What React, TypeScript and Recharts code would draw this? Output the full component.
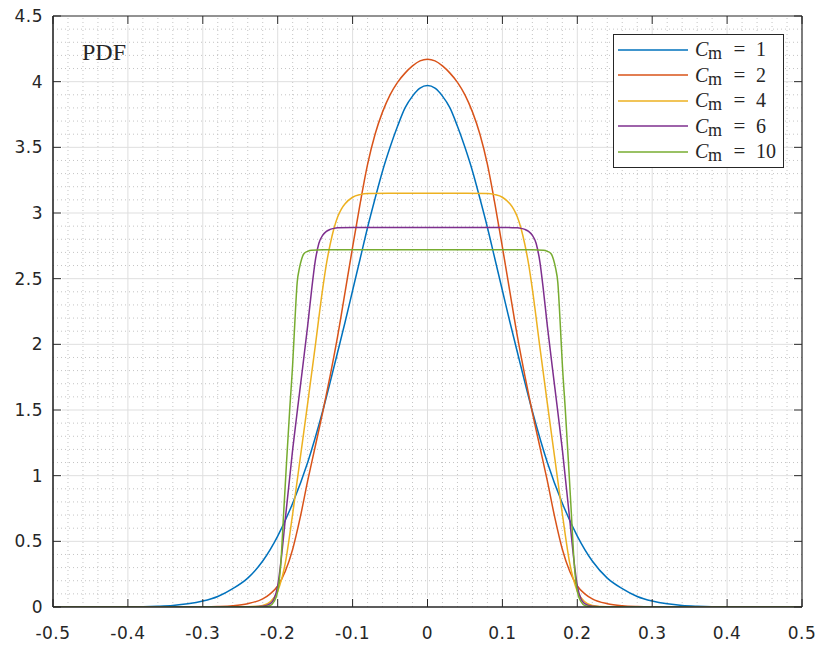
import React from "react";
import { Legend, Line, LineChart, ReferenceLine, XAxis, YAxis } from "recharts";

const xTicks = [-0.5, -0.4, -0.3, -0.2, -0.1, 0, 0.1, 0.2, 0.3, 0.4, 0.5];
const yTicks = [0, 0.5, 1, 1.5, 2, 2.5, 3, 3.5, 4, 4.5];

const cmValues = ["1", "2", "4", "6", "10"];
const colors = ["#0072BD", "#D95319", "#EDB120", "#7E2F8E", "#77AC30"];

// Cm = 1
const cm1X = [-0.5, -0.4, -0.36, -0.34, -0.32, -0.3, -0.28, -0.26, -0.24, -0.22, -0.2, -0.18, -0.16, -0.14, -0.12, -0.11, -0.1, -0.09, -0.08, -0.07, -0.06, -0.05, -0.04, -0.03, -0.02, -0.01, 0, 0.01, 0.02, 0.03, 0.04, 0.05, 0.06, 0.07, 0.08, 0.09, 0.1, 0.11, 0.12, 0.14, 0.16, 0.18, 0.2, 0.22, 0.24, 0.26, 0.28, 0.3, 0.32, 0.34, 0.36, 0.4, 0.5];
const cm1Y = [0, 0.001, 0.006, 0.012, 0.024, 0.045, 0.08, 0.14, 0.22, 0.35, 0.54, 0.79, 1.1, 1.49, 1.94, 2.17, 2.41, 2.65, 2.89, 3.11, 3.32, 3.5, 3.66, 3.8, 3.89, 3.95, 3.97, 3.95, 3.89, 3.8, 3.66, 3.5, 3.32, 3.11, 2.89, 2.65, 2.41, 2.17, 1.94, 1.49, 1.1, 0.79, 0.54, 0.35, 0.22, 0.14, 0.08, 0.045, 0.024, 0.012, 0.006, 0.001, 0];

// Cm = 2
const cm2X = [-0.5, -0.34, -0.3, -0.28, -0.26, -0.24, -0.22, -0.21, -0.2, -0.19, -0.18, -0.17, -0.16, -0.15, -0.14, -0.13, -0.12, -0.11, -0.1, -0.09, -0.08, -0.07, -0.06, -0.05, -0.04, -0.03, -0.02, -0.01, 0, 0.01, 0.02, 0.03, 0.04, 0.05, 0.06, 0.07, 0.08, 0.09, 0.1, 0.11, 0.12, 0.13, 0.14, 0.15, 0.16, 0.17, 0.18, 0.19, 0.2, 0.21, 0.22, 0.24, 0.26, 0.28, 0.3, 0.34, 0.5];
const cm2Y = [0, 0.0003, 0.001, 0.003, 0.009, 0.025, 0.062, 0.1, 0.16, 0.27, 0.44, 0.68, 0.96, 1.22, 1.48, 1.76, 2.06, 2.4, 2.74, 3.07, 3.37, 3.6, 3.77, 3.9, 3.995, 4.065, 4.12, 4.158, 4.17, 4.158, 4.12, 4.065, 3.995, 3.9, 3.77, 3.6, 3.37, 3.07, 2.74, 2.4, 2.06, 1.76, 1.48, 1.22, 0.96, 0.68, 0.44, 0.27, 0.16, 0.1, 0.062, 0.025, 0.009, 0.003, 0.001, 0.0003, 0];

// Cm = 4
const cm4X = [-0.5, -0.24, -0.22, -0.21, -0.2, -0.19, -0.18, -0.17, -0.16, -0.15, -0.14, -0.135, -0.13, -0.125, -0.12, -0.115, -0.11, -0.1, -0.09, -0.08, -0.04, 0, 0.04, 0.08, 0.09, 0.1, 0.11, 0.115, 0.12, 0.125, 0.13, 0.135, 0.14, 0.15, 0.16, 0.17, 0.18, 0.19, 0.2, 0.21, 0.22, 0.24, 0.5];
const cm4Y = [0, 0.002, 0.012, 0.04, 0.12, 0.33, 0.71, 1.13, 1.55, 1.98, 2.42, 2.61, 2.76, 2.88, 2.97, 3.03, 3.07, 3.12, 3.14, 3.148, 3.15, 3.15, 3.15, 3.148, 3.14, 3.12, 3.07, 3.03, 2.97, 2.88, 2.76, 2.61, 2.42, 1.98, 1.55, 1.13, 0.71, 0.33, 0.12, 0.04, 0.012, 0.002, 0];

// Cm = 6
const cm6X = [-0.5, -0.24, -0.22, -0.21, -0.205, -0.2, -0.195, -0.19, -0.18, -0.17, -0.16, -0.155, -0.15, -0.145, -0.14, -0.135, -0.13, -0.125, -0.12, -0.1, -0.06, 0, 0.06, 0.1, 0.12, 0.125, 0.13, 0.135, 0.14, 0.145, 0.15, 0.155, 0.16, 0.17, 0.18, 0.19, 0.195, 0.2, 0.205, 0.21, 0.22, 0.24, 0.5];
const cm6Y = [0, 0.001, 0.005, 0.025, 0.06, 0.16, 0.38, 0.66, 1.2, 1.67, 2.14, 2.4, 2.63, 2.77, 2.83, 2.86, 2.875, 2.883, 2.887, 2.89, 2.89, 2.89, 2.89, 2.89, 2.887, 2.883, 2.875, 2.86, 2.83, 2.77, 2.63, 2.4, 2.14, 1.67, 1.2, 0.66, 0.38, 0.16, 0.06, 0.025, 0.005, 0.001, 0];

// Cm = 10
const cm10X = [-0.5, -0.22, -0.21, -0.205, -0.2, -0.196, -0.192, -0.188, -0.184, -0.18, -0.177, -0.174, -0.171, -0.168, -0.165, -0.16, -0.155, -0.14, -0.08, 0, 0.08, 0.14, 0.155, 0.16, 0.165, 0.168, 0.171, 0.174, 0.177, 0.18, 0.184, 0.188, 0.192, 0.196, 0.2, 0.205, 0.21, 0.22, 0.5];
const cm10Y = [0, 0.002, 0.012, 0.04, 0.12, 0.32, 0.72, 1.12, 1.5, 1.85, 2.18, 2.47, 2.58, 2.65, 2.69, 2.708, 2.716, 2.72, 2.72, 2.72, 2.72, 2.72, 2.716, 2.708, 2.69, 2.65, 2.58, 2.47, 2.18, 1.85, 1.5, 1.12, 0.72, 0.32, 0.12, 0.04, 0.012, 0.002, 0];

const seriesX = [cm1X, cm2X, cm4X, cm6X, cm10X];
const seriesY = [cm1Y, cm2Y, cm4Y, cm6Y, cm10Y];

const series = cmValues.map((cm, i) => ({
  name: `Cm = ${cm}`,
  cm,
  color: colors[i],
  data: seriesX[i].map((x, j) => ({ x, y: seriesY[i][j] })),
}));

// minor grid: 0.02 in x, 0.1 in y
const minorX: number[] = [];
for (let i = -25; i <= 25; i++) if (i % 5 !== 0) minorX.push(i / 50);
const minorY: number[] = [];
for (let i = 1; i < 45; i++) if (i % 5 !== 0) minorY.push(i / 10);

// inward tick length (about 8px) and the gap the major grid leaves for it
const xTickLen = 0.0107;
const yTickLen = 0.061;
const xGap = 0.012;
const yGap = 0.07;
const innerX = xTicks.slice(1, -1);
const innerY = yTicks.slice(1, -1);

const axisColor = "#262626";
const axisLine = { stroke: axisColor, strokeWidth: 1 };
const tickFont = { fontSize: 17, fontFamily: "DejaVu Sans", fill: axisColor, letterSpacing: 0.5 };
const serif = "'Liberation Serif', 'DejaVu Serif', serif";

function LegendBox(props: any) {
  const items = [...(props.payload || [])].sort(
    (a: any, b: any) => series.findIndex((s) => s.name === a.value) - series.findIndex((s) => s.name === b.value)
  );
  return (
    <div
      style={{
        width: 171,
        height: 134,
        boxSizing: "border-box",
        border: `1px solid ${axisColor}`,
        background: "#fff",
        paddingTop: 2,
        fontFamily: serif,
        color: axisColor,
      }}
    >
      {items.map((p: any) => {
        const s = series.find((q) => q.name === p.value);
        return (
          <div key={p.value} style={{ display: "flex", alignItems: "center", height: 25.5 }}>
            <svg width={70} height={4} style={{ marginLeft: 4 }}>
              <line x1={0} x2={70} y1={2} y2={2} stroke={p.color} strokeWidth={1.5} />
            </svg>
            <span style={{ marginLeft: 7, fontSize: 20, fontStyle: "italic", width: 13, display: "inline-block" }}>C</span>
            <span style={{ fontSize: 18, position: "relative", top: 4, width: 19, display: "inline-block" }}>m</span>
            <span style={{ fontSize: 21, marginLeft: 5, width: 15, display: "inline-block", textAlign: "center" }}>=</span>
            <span style={{ fontSize: 20, marginLeft: 9 }}>{s ? s.cm : ""}</span>
          </div>
        );
      })}
    </div>
  );
}

export default function App() {
  return (
    <div style={{ position: "absolute", left: 0, top: 0, width: 823, height: 646, background: "#fff" }}>
      <LineChart width={823} height={646} margin={{ top: 16, right: 21, bottom: 0, left: 0 }}>
        {/* minor grid, dotted */}
        {minorX.map((v) => (
          <ReferenceLine key={`mx${v}`} x={v} stroke="#c4c4c4" strokeDasharray="1 3" strokeWidth={1} />
        ))}
        {minorY.map((v) => (
          <ReferenceLine key={`my${v}`} y={v} stroke="#c4c4c4" strokeDasharray="1 3" strokeWidth={1} />
        ))}
        {/* major grid */}
        {innerX.map((v) => (
          <ReferenceLine key={`gx${v}`} segment={[{ x: v, y: yGap }, { x: v, y: 4.5 - yGap }]} stroke="#dfdfdf" strokeWidth={1} />
        ))}
        {innerY.map((v) => (
          <ReferenceLine key={`gy${v}`} segment={[{ x: -0.5 + xGap, y: v }, { x: 0.5 - xGap, y: v }]} stroke="#dfdfdf" strokeWidth={1} />
        ))}
        <XAxis
          type="number"
          dataKey="x"
          domain={[-0.5, 0.5]}
          ticks={xTicks}
          allowDataOverflow
          height={39}
          axisLine={axisLine}
          tickLine={axisLine}
          tickSize={-8}
          tickMargin={28}
          tick={tickFont}
          interval={0}
        />
        <YAxis
          type="number"
          domain={[0, 4.5]}
          ticks={yTicks}
          allowDataOverflow
          width={53}
          axisLine={axisLine}
          tickLine={axisLine}
          tickSize={-8}
          tickMargin={18}
          tick={tickFont}
          interval={0}
        />
        {series.map((s) => (
          <Line
            key={s.name}
            data={s.data}
            dataKey="y"
            name={s.name}
            type="monotone"
            stroke={s.color}
            strokeWidth={1.5}
            dot={false}
            activeDot={false}
            isAnimationActive={false}
          />
        ))}
        {/* axes box, unclipped */}
        <ReferenceLine x={-0.5} stroke={axisColor} strokeWidth={1.2} ifOverflow="visible" />
        <ReferenceLine x={0.5} stroke={axisColor} strokeWidth={1.2} ifOverflow="visible" />
        <ReferenceLine y={0} stroke={axisColor} strokeWidth={1.2} ifOverflow="visible" />
        <ReferenceLine y={4.5} stroke={axisColor} strokeWidth={1.2} ifOverflow="visible" />
        {/* inward ticks on the top and right edges */}
        {xTicks.map((v) => (
          <ReferenceLine key={`tt${v}`} segment={[{ x: v, y: 4.5 }, { x: v, y: 4.5 - yTickLen }]} stroke={axisColor} strokeWidth={1} ifOverflow="visible" />
        ))}
        {yTicks.map((v) => (
          <ReferenceLine key={`tr${v}`} segment={[{ x: 0.5, y: v }, { x: 0.5 - xTickLen, y: v }]} stroke={axisColor} strokeWidth={1} ifOverflow="visible" />
        ))}
        <Legend
          layout="vertical"
          align="center"
          verticalAlign="middle"
          content={<LegendBox />}
          wrapperStyle={{ top: 34, left: 613, width: 171, height: 134 }}
        />
      </LineChart>
      <div
        style={{
          position: "absolute",
          left: 82,
          top: 40,
          fontFamily: serif,
          fontSize: 24,
          color: axisColor,
          lineHeight: "24px",
        }}
      >
        PDF
      </div>
    </div>
  );
}
